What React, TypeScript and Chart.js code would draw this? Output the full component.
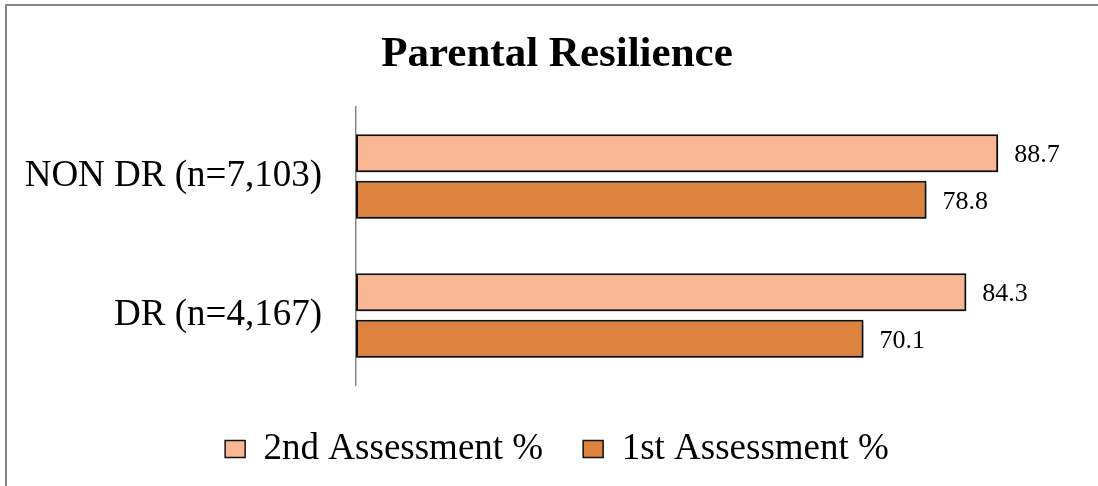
import React, { useEffect, useRef } from "react";
import { Chart, registerables } from "chart.js";

Chart.register(...registerables);

const categories = ["NON DR (n=7,103)", "DR (n=4,167)"];
const seriesNames = ["2nd Assessment %", "1st Assessment %"];
const secondAssessment = [88.7, 84.3];
const firstAssessment = [78.8, 70.1];
const titleText = "Parental Resilience";

const SERIF = "'Liberation Serif', 'Times New Roman', serif";
const LIGHT = "#F8B692";
const DARK = "#DB833F";

const shadowPlugin = {
  id: "barShadow",
  beforeDatasetDraw(chart: any) {
    const ctx = chart.ctx;
    ctx.save();
    ctx.shadowColor = "rgba(0,0,0,0.45)";
    ctx.shadowBlur = 5;
    ctx.shadowOffsetX = 2;
    ctx.shadowOffsetY = 3;
  },
  afterDatasetDraw(chart: any) {
    chart.ctx.restore();
  },
};

const valueLabelPlugin = {
  id: "valueLabels",
  afterDatasetsDraw(chart: any) {
    const ctx = chart.ctx;
    ctx.save();
    ctx.font = `26px ${SERIF}`;
    ctx.fillStyle = "#000";
    ctx.textAlign = "left";
    ctx.textBaseline = "middle";
    chart.data.datasets.forEach((ds: any, di: number) => {
      const meta = chart.getDatasetMeta(di);
      meta.data.forEach((bar: any, i: number) => {
        const v = ds.data[i];
        ctx.fillText(v.toFixed(1), bar.x + 16, bar.y + 2);
      });
    });
    ctx.restore();
  },
};

export default function App() {
  const ref = useRef<HTMLCanvasElement | null>(null);

  useEffect(() => {
    if (!ref.current) return;
    const chart = new Chart(ref.current, {
      type: "bar",
      data: {
        labels: categories,
        datasets: [
          {
            label: seriesNames[0],
            data: secondAssessment,
            backgroundColor: LIGHT,
            borderColor: "#111",
            borderWidth: 2,
            borderSkipped: false,
            categoryPercentage: 0.67,
            barPercentage: 0.82,
          },
          {
            label: seriesNames[1],
            data: firstAssessment,
            backgroundColor: DARK,
            borderColor: "#111",
            borderWidth: 2,
            borderSkipped: false,
            categoryPercentage: 0.67,
            barPercentage: 0.82,
          },
        ],
      },
      options: {
        indexAxis: "y",
        responsive: false,
        animation: false,
        layout: { padding: { top: 0, left: 34, right: 18, bottom: 8.5 } },
        scales: {
          x: {
            min: 0,
            max: 100,
            display: true,
            ticks: { display: false },
            grid: { display: false, drawTicks: false },
            border: { display: false },
            afterFit: (s: any) => {
              s.height = 5.5;
            },
          },
          y: {
            grid: { display: false, drawTicks: false },
            border: { display: true, color: "#868686", width: 1.5 },
            ticks: {
              color: "#000",
              padding: 34,
              font: { family: SERIF, size: 37 },
            },
            afterFit: (s: any) => {
              s.width = 322;
              // let the long category labels extend past the padded edge
              s._computeLabelArea = () => undefined;
            },
          },
        },
        plugins: {
          title: {
            display: true,
            text: titleText,
            color: "#000",
            font: { family: SERIF, size: 43, weight: "bold" },
            padding: { top: 29, bottom: 26.4 },
          },
          legend: {
            display: true,
            position: "bottom",
            labels: {
              color: "#000",
              font: { family: SERIF, size: 37 },
              boxWidth: 20,
              boxHeight: 17,
              padding: 40,
              generateLabels: (chart: any) =>
                chart.data.datasets.map((ds: any, i: number) => ({
                  text: ds.label,
                  fillStyle: ds.backgroundColor,
                  strokeStyle: "#111",
                  lineWidth: 1.5,
                  fontColor: "#000",
                  datasetIndex: i,
                  hidden: false,
                })),
            },
          },
          tooltip: { enabled: false },
        },
      },
      plugins: [shadowPlugin, valueLabelPlugin],
    });
    return () => chart.destroy();
  }, []);

  return (
    <div
      style={{
        position: "absolute",
        left: 0,
        top: 0,
        width: 1098,
        height: 486,
        overflow: "hidden",
        background: "#fff",
      }}
    >
      <div
        style={{
          position: "absolute",
          left: 5,
          top: 4,
          width: 1200,
          height: 600,
          borderLeft: "2px solid #868686",
          borderTop: "2px solid #868686",
        }}
      />
      <canvas
        ref={ref}
        width={1098}
        height={486}
        style={{ position: "absolute", left: 0, top: 0, width: 1098, height: 486 }}
      />
    </div>
  );
}
